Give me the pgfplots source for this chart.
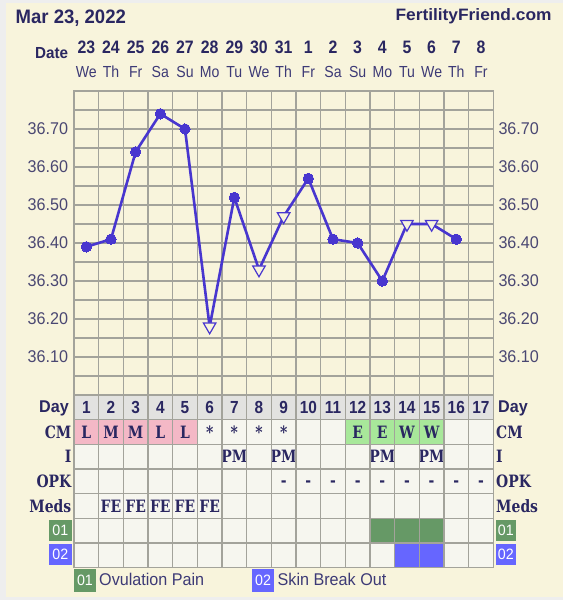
\documentclass[border=0pt]{standalone}
\usepackage{pgfplots}
\pgfplotsset{compat=1.18}
\usepackage{fontspec}
\setmainfont{Liberation Sans}
\newfontfamily\hs{Liberation Sans}[FakeStretch=0.95]
\newfontfamily\hsn{Liberation Sans}[FakeStretch=0.88]
\newfontfamily\hsw{Liberation Sans}[FakeStretch=1.05]
\newfontfamily\slab{DejaVu Serif}[FakeStretch=0.82]

\definecolor{cream}{HTML}{F8F4DC}
\definecolor{outerc}{HTML}{EEEEEE}
\definecolor{navy}{HTML}{2A2761}
\definecolor{wkc}{HTML}{3D3A76}
\definecolor{tickc}{HTML}{4A4772}
\definecolor{gridc}{HTML}{A3A39B}
\definecolor{linec}{HTML}{4836CF}
\definecolor{cellc}{HTML}{F6F6EF}
\definecolor{dayc}{HTML}{E2E2E0}
\definecolor{pinkc}{HTML}{F4B8C6}
\definecolor{lgreen}{HTML}{A8E89A}
\definecolor{dgreen}{HTML}{669966}
\definecolor{bluec}{HTML}{6666FF}

\newcommand\sfs[1]{\fontsize{#1}{#1}\selectfont}

\pgfplotstableread{
day temp
1 36.39
2 36.41
3 36.64
4 36.74
5 36.70
6 36.18
7 36.52
8 36.33
9 36.47
10 36.57
11 36.41
12 36.40
13 36.30
14 36.45
15 36.45
16 36.41
}\temps

\begin{document}
\begin{tikzpicture}
\fill[outerc] (0pt,0pt) rectangle (563pt,-600pt);
\fill[cream] (5.5pt,-3pt) rectangle (563pt,-597pt);

% header
\node[anchor=base west, inner sep=0pt, text=navy, font=\hs\bfseries\sfs{19.5}] at (15.5pt,-23.3pt) {Mar 23, 2022};
\node[anchor=base east, inner sep=0pt, text=navy, font=\hsw\bfseries\sfs{16.5}] at (551.7pt,-20.7pt) {FertilityFriend.com};
\node[anchor=base east, inner sep=0pt, text=navy, font=\hs\bfseries\sfs{16}] at (68.3pt,-58.3pt) {Date};
\foreach \d [count=\i] in {23,24,25,26,27,28,29,30,31,1,2,3,4,5,6,7,8} {
  \node[anchor=base, inner sep=0pt, text=navy, font=\hsn\bfseries\sfs{18}] at ({(74+(\i-0.5)*24.665)*1pt},-53.3pt) {\d};
}
\foreach \w [count=\i] in {We,Th,Fr,Sa,Su,Mo,Tu,We,Th,Fr,Sa,Su,Mo,Tu,We,Th,Fr} {
  \node[anchor=base, inner sep=0pt, text=wkc, font=\hsn\sfs{16}] at ({(74+(\i-0.5)*24.665)*1pt},-77.3pt) {\w};
}

% temperature chart
\begin{axis}[
  at={(74pt,-91pt)}, anchor=north west, scale only axis,
  width=419.3pt, height=304pt,
  xmin=0.5, xmax=17.5, ymin=36.0, ymax=36.8,
  xtick={0.5,1.5,...,17.5}, xticklabels={},
  ytick={36.1,36.2,36.3,36.4,36.5,36.6,36.7},
  minor ytick={36.05,36.15,36.25,36.35,36.45,36.55,36.65,36.75},
  grid=both,
  major grid style={gridc, line width=1.2pt},
  minor grid style={gridc, line width=1.2pt},
  axis line style={gridc, line width=1.2pt},
  tick style={draw=none},
  axis background/.style={fill=cream},
  /pgf/number format/assume math mode=true,
  yticklabel={\pgfmathprintnumber[fixed,fixed zerofill,precision=2]{\tick}},
  yticklabel style={font=\hs\sfs{17}, text=tickc, anchor=east, inner sep=0pt, xshift=-5.7pt},
]
\addplot[linec, line width=2.6pt, line join=round, mark=none] table[x=day,y=temp] {\temps};
\addplot[only marks, mark=*, mark size=5.2pt, mark options={fill=linec, draw=linec, line width=0pt}] coordinates {
 (1,36.39) (2,36.41) (3,36.64) (4,36.74) (5,36.70) (7,36.52) (10,36.57) (11,36.41) (12,36.40) (13,36.30) (16,36.41)};
\addplot[only marks, mark=triangle*, mark size=7.2pt, mark options={rotate=180, fill=cream, draw=linec, line width=1.2pt}] coordinates {
 (6,36.18) (8,36.33) (9,36.47) (14,36.45) (15,36.45)};
\end{axis}

% right tick labels
\begin{axis}[
  at={(74pt,-91pt)}, anchor=north west, scale only axis,
  width=419.3pt, height=304pt,
  xmin=0.5, xmax=17.5, ymin=36.0, ymax=36.8,
  xtick=\empty,
  ytick={36.1,36.2,36.3,36.4,36.5,36.6,36.7},
  yticklabel pos=right,
  axis line style={draw=none},
  tick style={draw=none},
  /pgf/number format/assume math mode=true,
  yticklabel={\pgfmathprintnumber[fixed,fixed zerofill,precision=2]{\tick}},
  yticklabel style={font=\hs\sfs{17}, text=tickc, anchor=west, inner sep=0pt, xshift=5pt},
]
\end{axis}

% table
\begin{axis}[
  at={(74pt,-395pt)}, anchor=north west, scale only axis,
  width=419.3pt, height=172.65pt,
  xmin=0.5, xmax=17.5, ymin=0, ymax=7, y dir=reverse,
  xtick={0.5,1.5,...,17.5}, ytick={0,1,...,7},
  xticklabels={}, yticklabels={},
  grid=major, major grid style={gridc, line width=1.2pt},
  axis line style={gridc, line width=1.2pt},
  tick style={draw=none},
  axis background/.style={fill=cellc},
  axis on top, clip=false,
]
\addplot[fill=dayc, draw=none] coordinates {(0.5,0) (17.5,0) (17.5,1) (0.5,1)};
\addplot[fill=pinkc, draw=none] coordinates {(0.5,1) (5.5,1) (5.5,2) (0.5,2)};
\addplot[fill=lgreen, draw=none] coordinates {(11.5,1) (15.5,1) (15.5,2) (11.5,2)};
\addplot[fill=dgreen, draw=none] coordinates {(12.5,5) (15.5,5) (15.5,6) (12.5,6)};
\addplot[fill=bluec, draw=none] coordinates {(13.5,6) (15.5,6) (15.5,7) (13.5,7)};
\pgfplotsinvokeforeach{1,...,17}{
  \node[anchor=base, inner sep=0pt, text=navy, font=\hsn\bfseries\sfs{17.5}] at (axis cs:#1,0.73) {#1};
}
\pgfplotsinvokeforeach{9,...,17}{
  \node[anchor=base, inner sep=0pt, text=navy, font=\slab\bfseries\sfs{17}] at (axis cs:#1,3.72) {-};
}
\pgfplotsinvokeforeach{2,...,6}{
  \node[anchor=base, inner sep=0pt, text=navy, font=\slab\bfseries\sfs{17}] at (axis cs:#1,4.75) {FE};
}
\pgfplotsinvokeforeach{6,...,9}{
  \node[anchor=base, inner sep=0pt, text=navy, font=\slab\bfseries\sfs{17}] at (axis cs:#1,1.75) {*};
}
\foreach \c/\t in {1/L,2/M,3/M,4/L,5/L,12/E,13/E,14/W,15/W} {
  \edef\tmp{\noexpand\node[anchor=base, inner sep=0pt, text=navy, font=\noexpand\slab\noexpand\bfseries\noexpand\sfs{17}] at (axis cs:\c,1.75) {\t};}\tmp
}
\foreach \c in {7,9,13,15} {
  \edef\tmp{\noexpand\node[anchor=base, inner sep=0pt, text=navy, font=\noexpand\slab\noexpand\bfseries\noexpand\sfs{17}] at (axis cs:\c,2.75) {PM};}\tmp
}
\end{axis}

% row labels left
\node[anchor=base east, inner sep=0pt, text=navy, font=\hs\bfseries\sfs{17}] at (69pt,-412.7pt) {Day};
\node[anchor=base east, inner sep=0pt, text=navy, font=\slab\bfseries\sfs{17}] at (71.5pt,-438.3pt) {CM};
\node[anchor=base east, inner sep=0pt, text=navy, font=\slab\bfseries\sfs{17}] at (71.5pt,-462.9pt) {I};
\node[anchor=base east, inner sep=0pt, text=navy, font=\slab\bfseries\sfs{17}] at (71.5pt,-487.6pt) {OPK};
\node[anchor=base east, inner sep=0pt, text=navy, font=\slab\bfseries\sfs{17}] at (71.5pt,-512.2pt) {Meds};
\fill[dgreen] (49pt,-520pt) rectangle (71.7pt,-540.5pt);
\node[text=white, inner sep=0pt, font=\hs\sfs{15}] at (60.35pt,-530.25pt) {01};
\fill[bluec] (49pt,-544pt) rectangle (71.7pt,-565pt);
\node[text=white, inner sep=0pt, font=\hs\sfs{15}] at (60.35pt,-554.5pt) {02};

% row labels right
\node[anchor=base west, inner sep=0pt, text=navy, font=\hs\bfseries\sfs{17}] at (498pt,-412.7pt) {Day};
\node[anchor=base west, inner sep=0pt, text=navy, font=\slab\bfseries\sfs{17}] at (496pt,-438.3pt) {CM};
\node[anchor=base west, inner sep=0pt, text=navy, font=\slab\bfseries\sfs{17}] at (496pt,-462.9pt) {I};
\node[anchor=base west, inner sep=0pt, text=navy, font=\slab\bfseries\sfs{17}] at (496pt,-487.6pt) {OPK};
\node[anchor=base west, inner sep=0pt, text=navy, font=\slab\bfseries\sfs{17}] at (496pt,-512.2pt) {Meds};
\fill[dgreen] (495.5pt,-519.5pt) rectangle (516pt,-540.5pt);
\node[text=white, inner sep=0pt, font=\hs\sfs{15}] at (505.75pt,-530pt) {01};
\fill[bluec] (495.5pt,-544pt) rectangle (516pt,-565pt);
\node[text=white, inner sep=0pt, font=\hs\sfs{15}] at (505.75pt,-554.5pt) {02};

% legend
\fill[dgreen] (74pt,-569.3pt) rectangle (96pt,-591.7pt);
\node[text=white, inner sep=0pt, font=\hs\sfs{15}] at (85pt,-580.5pt) {01};
\node[anchor=base west, inner sep=0pt, text=wkc, font=\hs\sfs{17}] at (99pt,-585pt) {Ovulation Pain};
\fill[bluec] (252pt,-569.3pt) rectangle (274pt,-591.7pt);
\node[text=white, inner sep=0pt, font=\hs\sfs{15}] at (263pt,-580.5pt) {02};
\node[anchor=base west, inner sep=0pt, text=wkc, font=\hs\sfs{17}] at (277.5pt,-585pt) {Skin Break Out};

\pgfresetboundingbox
\useasboundingbox (0pt,0pt) rectangle (563pt,-600pt);
\end{tikzpicture}
\end{document}
